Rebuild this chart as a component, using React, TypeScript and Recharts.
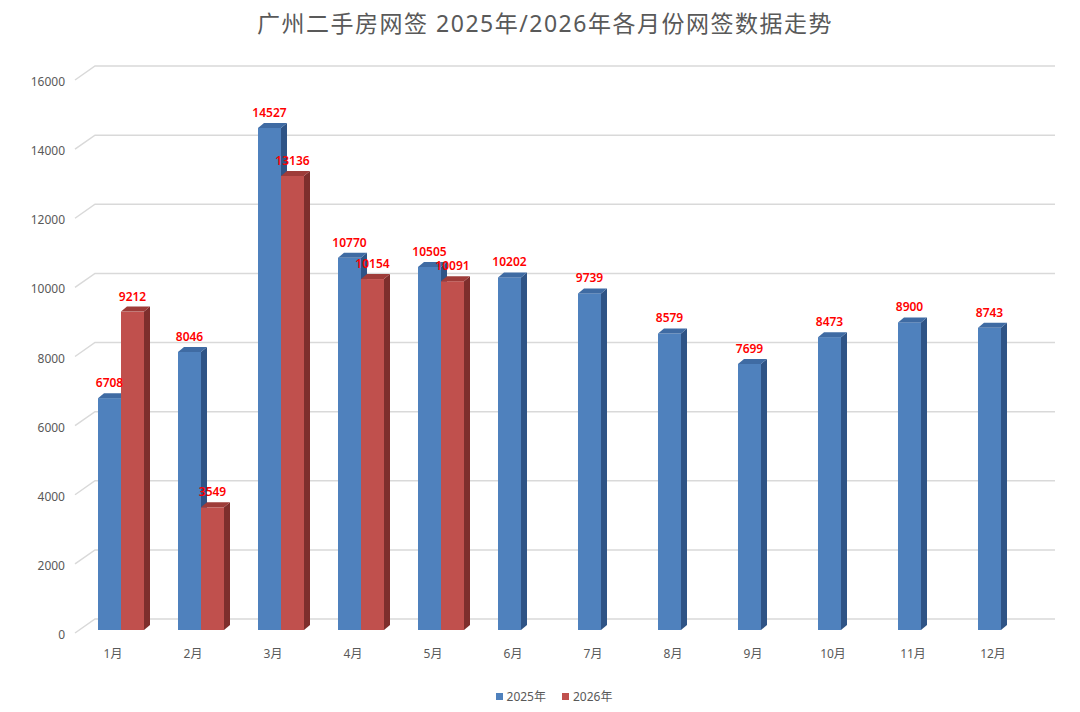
import React from 'react'
import { BarChart, Bar, XAxis, YAxis, CartesianGrid, LabelList } from 'recharts'

const months = ['1月', '2月', '3月', '4月', '5月', '6月', '7月', '8月', '9月', '10月', '11月', '12月']
const sales2025 = [6708, 8046, 14527, 10770, 10505, 10202, 9739, 8579, 7699, 8473, 8900, 8743]
const sales2026: (number | null)[] = [9212, 3549, 13136, 10154, 10091, null, null, null, null, null, null, null]
const yTicks = [0, 2000, 4000, 6000, 8000, 10000, 12000, 14000, 16000]

const data = months.map((m, i) => ({ month: m, y2025: sales2025[i], y2026: sales2026[i] }))

const FONT = '"Noto Sans", "Noto Sans CJK SC", sans-serif'
const DX = 6
const DY = 5

// 3D-ish column: front face + side + top
function Column3D(colors: { front: string; side: string; top: string }) {
  return (props: any) => {
    const { x, y, width, height } = props
    if (height == null || height <= 0) return null
    const r = x + width
    const b = y + height
    return (
      <g>
        <rect x={x} y={y} width={width} height={height} fill={colors.front} />
        <polygon points={`${r},${y} ${r + DX},${y - DY} ${r + DX},${b - DY} ${r},${b}`} fill={colors.side} />
        <polygon points={`${x},${y} ${x + DX},${y - DY} ${r + DX},${y - DY} ${r},${y}`} fill={colors.top} />
      </g>
    )
  }
}

const blueShape = Column3D({ front: '#4F81BD', side: '#2F5486', top: '#3F6BA3' })
const redShape = Column3D({ front: '#C0504D', side: '#7E2E2C', top: '#9E3C39' })

// gridline with the little diagonal "floor" offset
function GridLine(props: any) {
  const { x1, x2, y1 } = props
  return (
    <path
      d={`M${x1 - 6},${y1 + 3} L${x1 + 14},${y1 - 11} L${x2 + 14},${y1 - 11}`}
      stroke="#D9D9D9"
      strokeWidth={1.5}
      fill="none"
    />
  )
}

function MonthTick({ x, y, payload }: any) {
  return (
    <text x={x - 8} y={y} dy={8} textAnchor="middle" fill="#595959" fontSize={12} fontFamily={FONT}>
      {payload.value}
    </text>
  )
}

function ValueTick({ x, y, payload }: any) {
  return (
    <text x={x} y={y} dy={9} textAnchor="end" fill="#595959" fontSize={12} fontFamily={FONT}>
      {payload.value}
    </text>
  )
}

export default function App() {
  return (
    <div style={{ position: 'absolute', left: 0, top: 0, width: 1080, height: 712, background: '#fff', fontFamily: FONT }}>
      <div style={{ position: 'absolute', top: 5, left: 0, width: 1090, textAlign: 'center', fontSize: 23, color: '#595959', letterSpacing: 1.5 }}>
        广州二手房网签 2025年/2026年各月份网签数据走势
      </div>
      <BarChart width={1080} height={712} data={data} barGap={0} barSize={23}
        margin={{ top: 77, right: 39, left: 0, bottom: 52 }}>
        <CartesianGrid vertical={false} horizontal={<GridLine />} />
        <XAxis dataKey="month" axisLine={false} tickLine={false} tickMargin={14} height={30}
          tick={<MonthTick />} />
        <YAxis domain={[0, 16000]} ticks={yTicks} width={81} axisLine={false} tickLine={false}
          tickMargin={10} tick={<ValueTick />} />
        <Bar dataKey="y2025" fill="#4F81BD" shape={blueShape} isAnimationActive={false}>
          <LabelList dataKey="y2025" position="top" offset={11} fill="#FF0000" fontSize={12}
            fontWeight={600} fontFamily={FONT} />
        </Bar>
        <Bar dataKey="y2026" fill="#C0504D" shape={redShape} isAnimationActive={false}>
          <LabelList dataKey="y2026" position="top" offset={11} fill="#FF0000" fontSize={12}
            fontWeight={600} fontFamily={FONT} />
        </Bar>
      </BarChart>
      <div style={{ position: 'absolute', top: 687, left: 0, width: 1080, display: 'flex', justifyContent: 'center', gap: 16, fontSize: 12, color: '#595959', paddingLeft: 14 }}>
        <span style={{ display: 'flex', alignItems: 'center', gap: 4 }}>
          <span style={{ width: 7, height: 7, background: '#4F81BD', display: 'inline-block' }} />2025年
        </span>
        <span style={{ display: 'flex', alignItems: 'center', gap: 4 }}>
          <span style={{ width: 7, height: 7, background: '#C0504D', display: 'inline-block' }} />2026年
        </span>
      </div>
    </div>
  )
}
